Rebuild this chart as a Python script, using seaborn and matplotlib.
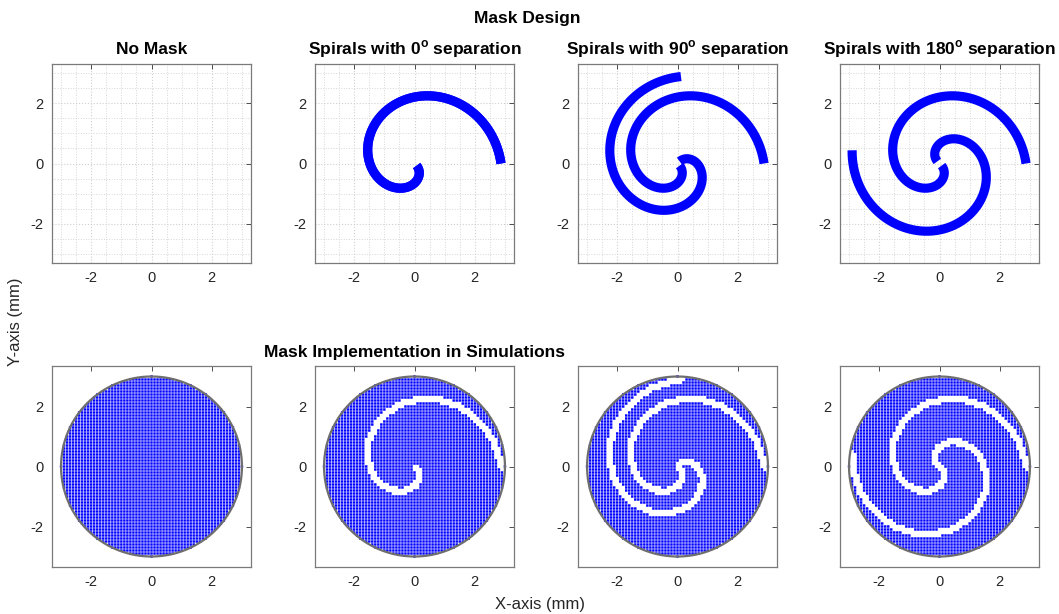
import numpy as np
import pandas as pd
import matplotlib
matplotlib.use("Agg")
import matplotlib.pyplot as plt
import seaborn as sns
from matplotlib.ticker import MultipleLocator

# ---------------- data ----------------
panel_titles = [
    "No Mask",
    "Spirals with 0$^{\\mathbf{o}}$ separation",
    "Spirals with 90$^{\\mathbf{o}}$ separation",
    "Spirals with 180$^{\\mathbf{o}}$ separation",
]
# rotation (deg) of each spiral arm drawn in a panel
arm_rotations = [[], [0, 0], [0, 90], [0, 180]]
# extra outer sweep (rad) of each arm
arm_extra_sweep = [[], [0.0, 0.0], [0.0, 0.04], [0.0, 0.15]]
spiral_outer_radius = 2.87     # mm, radius at outer end
spiral_total_angle = 5.585     # rad swept from outer end to centre
spiral_shape_power = 0.8
aperture_radius = 3.0          # mm
pixel_pitch = 0.1              # mm
design_tube_width = 6.6        # pt
sim_tube_halfwidth = 0.11      # mm
tick_values = [-2, 0, 2]
tick_labels = ["-2", "0", "2"]
row_titles = ["Mask Design", "Mask Implementation in Simulations"]
x_label = "X-axis (mm)"
y_label = "Y-axis (mm)"


def spiral_arm(rot_deg, extra):
    th = np.linspace(-extra, spiral_total_angle * 0.985, 900)
    r = spiral_outer_radius * np.clip(1 - th / spiral_total_angle, 0, None) ** spiral_shape_power
    ang = th + np.deg2rad(rot_deg)
    return pd.DataFrame({"x": r * np.cos(ang), "y": r * np.sin(ang)})


# ---------------- style ----------------
sns.set_theme(style="white")
plt.rcParams["font.family"] = ["Liberation Sans", "DejaVu Sans"]
plt.rcParams["mathtext.fontset"] = "custom"
plt.rcParams["mathtext.rm"] = "Liberation Sans"
plt.rcParams["mathtext.bf"] = "Liberation Sans:bold"

W, H = 1059, 614
fig = plt.figure(figsize=(W / 100, H / 100), dpi=100)

col_left_px = [52, 315, 578, 840]
ax_w_px = 199


def style_axes(ax, lim_y):
    ax.set_xlim(-3.3, 3.3)
    ax.set_ylim(-lim_y, lim_y)
    ax.set_xticks(tick_values)
    ax.set_xticklabels(tick_labels)
    ax.set_yticks(tick_values)
    ax.set_yticklabels(tick_labels)
    ax.tick_params(which="major", direction="in", length=3.5, width=0.6,
                   color="#333333", labelsize=10.5, labelcolor="#262626",
                   top=True, right=True, pad=6)
    ax.tick_params(which="minor", length=0, top=True, right=True)
    for s in ax.spines.values():
        s.set_color("#7a7a7a")
        s.set_linewidth(0.9)
    ax.set_xlabel("")
    ax.set_ylabel("")


# ---- top row: designs ----
for i in range(4):
    ax = fig.add_axes([col_left_px[i] / W, 1 - (64 + ax_w_px) / H, ax_w_px / W, ax_w_px / H])
    ax.xaxis.set_minor_locator(MultipleLocator(0.5))
    ax.yaxis.set_minor_locator(MultipleLocator(0.5))
    ax.grid(True, which="major", color="#cfcfcf", linestyle=":", linewidth=0.8)
    ax.grid(True, which="minor", color="#d6d6d6", linestyle=":", linewidth=0.7)
    ax.set_axisbelow(True)
    for rot, ex in zip(arm_rotations[i], arm_extra_sweep[i]):
        df = spiral_arm(rot, ex)
        sns.lineplot(data=df, x="x", y="y", sort=False, estimator=None, ax=ax,
                     color="#0000ff", linewidth=design_tube_width,
                     solid_capstyle="butt")
    style_axes(ax, 3.3)
    ax.set_title(panel_titles[i], fontsize=12.5, fontweight="bold", pad=7, color="black")

# ---- bottom row: simulation pixels ----
g = np.round(np.arange(-aperture_radius, aperture_radius + 1e-9, pixel_pitch), 3)
gx, gy = np.meshgrid(g, g)
gx, gy = gx.ravel(), gy.ravel()
inside = gx ** 2 + gy ** 2 <= aperture_radius ** 2 + 1e-9
gx, gy = gx[inside], gy[inside]

for i in range(4):
    ax = fig.add_axes([col_left_px[i] / W, 1 - (366 + 201) / H, ax_w_px / W, 201 / H])
    keep = np.ones(gx.size, bool)
    for rot, ex in zip(arm_rotations[i], arm_extra_sweep[i]):
        df = spiral_arm(rot, ex)
        d2 = (gx[:, None] - df["x"].values[None, :]) ** 2 + (gy[:, None] - df["y"].values[None, :]) ** 2
        keep &= d2.min(axis=1) > sim_tube_halfwidth ** 2
    pix = pd.DataFrame({"x": gx[keep], "y": gy[keep]})
    sns.scatterplot(data=pix, x="x", y="y", marker="s", s=3.1, color="#0000ff",
                    edgecolor="none", linewidth=0, ax=ax)
    ax.collections[-1].set_snap(False)
    t = np.linspace(0, 2 * np.pi, 400)
    ax.plot(aperture_radius * np.cos(t), aperture_radius * np.sin(t),
            color="#6e6e6e", linewidth=1.6, zorder=5)
    style_axes(ax, 3.35)

fig.text(527 / W, 1 - 18 / H, row_titles[0], ha="center", va="center",
         fontsize=12.5, fontweight="bold", color="black")
fig.text(414 / W, 1 - 353 / H, row_titles[1], ha="center", va="center",
         fontsize=12.5, fontweight="bold", color="black")
fig.text(540 / W, 1 - 604 / H, x_label, ha="center", va="center",
         fontsize=12, color="#262626")
fig.text(16 / W, 1 - 322 / H, y_label, ha="center", va="center",
         rotation=90, fontsize=12, color="#262626")

fig.savefig("out.png", dpi=100)
